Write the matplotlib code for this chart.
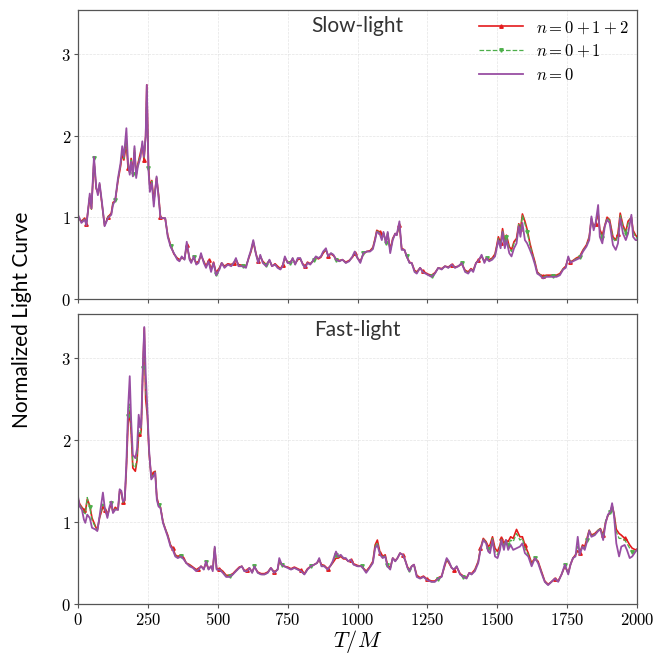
"""Slow-light vs fast-light normalized light curves for n = 0, 0+1, 0+1+2."""
import matplotlib
matplotlib.use("Agg")
import matplotlib.pyplot as plt
from matplotlib.ticker import FuncFormatter
import numpy as np

plt.rcParams["mathtext.fontset"] = "cm"

# ---- slow-light panel ----
t_slow = [
  0, 12, 24, 30, 42, 48, 57, 65, 71, 77,
  86, 95, 107, 119, 125, 133, 143, 152, 158, 164,
  173, 179, 185, 190, 196, 202, 208, 214, 224, 230,
  236, 242, 246, 252, 257, 264, 271, 281, 288, 295,
  312, 321, 331, 343, 355, 363, 371, 381, 389, 399,
  405, 414, 423, 431, 440, 450, 458, 467, 476, 485,
  494, 506, 514, 524, 536, 548, 557, 565, 574, 589,
  601, 610, 619, 627, 637, 645, 652, 661, 673, 685,
  694, 705, 714, 724, 732, 740, 750, 760, 768, 777,
  786, 795, 804, 813, 821, 831, 843, 851, 860, 869,
  877, 887, 895, 905, 914, 923, 935, 946, 958, 970,
  982, 990, 1000, 1010, 1021, 1033, 1045, 1055, 1063, 1069,
  1079, 1087, 1093, 1102, 1108, 1117, 1126, 1135, 1140, 1150,
  1158, 1168, 1176, 1186, 1194, 1204, 1212, 1224, 1233, 1243,
  1254, 1265, 1277, 1289, 1301, 1313, 1325, 1337, 1349, 1361,
  1373, 1385, 1396, 1406, 1414, 1424, 1432, 1444, 1454, 1462,
  1471, 1482, 1492, 1498, 1504, 1512, 1519, 1527, 1533, 1543,
  1551, 1560, 1569, 1577, 1583, 1590, 1599, 1607, 1617, 1626,
  1635, 1643, 1652, 1664, 1676, 1688, 1700, 1712, 1724, 1736,
  1745, 1754, 1762, 1771, 1783, 1795, 1807, 1819, 1829, 1837,
  1845, 1852, 1861, 1867, 1876, 1885, 1893, 1902, 1914, 1924,
  1932, 1940, 1950, 1960, 1968, 1980, 1986, 1995, 2000]

slow_n0 = [
  1.03, 0.93, 0.97, 0.90, 1.29, 1.11, 1.74, 1.37, 1.27, 1.42,
  1.17, 0.89, 0.99, 1.03, 1.15, 1.21, 1.48, 1.66, 1.87, 1.74,
  2.09, 1.66, 1.52, 1.68, 1.50, 1.87, 1.48, 1.62, 1.74, 1.93,
  1.74, 1.99, 2.62, 1.58, 1.31, 1.42, 1.13, 1.50, 1.25, 0.99,
  0.99, 0.76, 0.64, 0.56, 0.48, 0.46, 0.52, 0.48, 0.70, 0.48,
  0.44, 0.52, 0.42, 0.44, 0.56, 0.44, 0.38, 0.46, 0.33, 0.44,
  0.29, 0.36, 0.44, 0.38, 0.42, 0.40, 0.44, 0.50, 0.40, 0.40,
  0.38, 0.50, 0.60, 0.72, 0.54, 0.44, 0.54, 0.44, 0.40, 0.48,
  0.40, 0.42, 0.38, 0.36, 0.40, 0.52, 0.44, 0.44, 0.50, 0.42,
  0.50, 0.50, 0.42, 0.38, 0.44, 0.42, 0.48, 0.52, 0.50, 0.52,
  0.58, 0.62, 0.52, 0.56, 0.54, 0.48, 0.46, 0.48, 0.44, 0.46,
  0.52, 0.58, 0.50, 0.44, 0.56, 0.58, 0.58, 0.61, 0.72, 0.82,
  0.80, 0.72, 0.82, 0.68, 0.82, 0.56, 0.72, 0.80, 0.78, 0.95,
  0.60, 0.60, 0.52, 0.44, 0.44, 0.33, 0.31, 0.38, 0.33, 0.31,
  0.29, 0.27, 0.31, 0.38, 0.36, 0.40, 0.38, 0.42, 0.38, 0.40,
  0.44, 0.33, 0.31, 0.36, 0.33, 0.44, 0.46, 0.54, 0.44, 0.50,
  0.46, 0.48, 0.52, 0.62, 0.72, 0.62, 0.82, 0.62, 0.72, 0.56,
  0.52, 0.62, 0.68, 0.89, 0.76, 0.93, 0.72, 0.68, 0.60, 0.52,
  0.42, 0.31, 0.29, 0.25, 0.27, 0.27, 0.27, 0.27, 0.29, 0.36,
  0.38, 0.52, 0.44, 0.46, 0.48, 0.50, 0.58, 0.64, 0.72, 1.01,
  0.84, 0.93, 1.15, 0.76, 0.68, 0.89, 0.97, 0.93, 0.66, 0.60,
  0.68, 0.99, 0.80, 0.72, 0.80, 1.03, 0.76, 0.72, 0.72]

slow_n01 = [
  1.01, 0.94, 0.98, 0.91, 1.27, 1.10, 1.72, 1.36, 1.29, 1.41,
  1.16, 0.90, 1.00, 1.04, 1.17, 1.21, 1.46, 1.64, 1.82, 1.72,
  1.96, 1.62, 1.54, 1.70, 1.53, 1.85, 1.50, 1.64, 1.78, 1.90,
  1.72, 1.98, 2.55, 1.60, 1.35, 1.44, 1.17, 1.49, 1.27, 1.00,
  0.99, 0.77, 0.65, 0.56, 0.49, 0.47, 0.51, 0.48, 0.68, 0.49,
  0.45, 0.51, 0.43, 0.45, 0.54, 0.45, 0.39, 0.46, 0.35, 0.44,
  0.31, 0.37, 0.44, 0.39, 0.42, 0.41, 0.44, 0.49, 0.41, 0.40,
  0.39, 0.50, 0.59, 0.71, 0.54, 0.45, 0.53, 0.45, 0.41, 0.48,
  0.40, 0.42, 0.39, 0.36, 0.40, 0.51, 0.44, 0.44, 0.50, 0.42,
  0.49, 0.50, 0.42, 0.39, 0.44, 0.42, 0.48, 0.52, 0.50, 0.52,
  0.57, 0.61, 0.52, 0.56, 0.54, 0.48, 0.46, 0.48, 0.44, 0.46,
  0.52, 0.57, 0.50, 0.45, 0.56, 0.58, 0.58, 0.62, 0.73, 0.83,
  0.81, 0.74, 0.81, 0.69, 0.81, 0.58, 0.73, 0.80, 0.78, 0.92,
  0.61, 0.60, 0.52, 0.44, 0.44, 0.34, 0.32, 0.38, 0.33, 0.31,
  0.29, 0.28, 0.31, 0.38, 0.36, 0.40, 0.38, 0.42, 0.38, 0.40,
  0.44, 0.34, 0.32, 0.36, 0.34, 0.44, 0.46, 0.53, 0.45, 0.50,
  0.47, 0.49, 0.54, 0.64, 0.74, 0.66, 0.84, 0.68, 0.76, 0.62,
  0.58, 0.68, 0.72, 0.91, 0.83, 1.02, 0.92, 0.82, 0.66, 0.55,
  0.44, 0.32, 0.30, 0.27, 0.28, 0.28, 0.28, 0.28, 0.30, 0.37,
  0.39, 0.51, 0.45, 0.47, 0.49, 0.51, 0.59, 0.65, 0.75, 0.99,
  0.86, 0.92, 1.08, 0.82, 0.75, 0.90, 0.99, 0.96, 0.74, 0.70,
  0.78, 1.03, 0.88, 0.80, 0.92, 1.01, 0.82, 0.76, 0.74]

slow_n012 = [
  1.00, 0.95, 0.99, 0.92, 1.25, 1.10, 1.70, 1.35, 1.30, 1.40,
  1.15, 0.90, 1.00, 1.05, 1.18, 1.20, 1.45, 1.62, 1.78, 1.70,
  1.90, 1.60, 1.55, 1.72, 1.55, 1.82, 1.52, 1.65, 1.80, 1.88,
  1.70, 2.00, 2.62, 1.62, 1.38, 1.45, 1.20, 1.48, 1.28, 1.00,
  0.98, 0.78, 0.66, 0.55, 0.50, 0.48, 0.50, 0.49, 0.66, 0.50,
  0.46, 0.50, 0.44, 0.46, 0.53, 0.46, 0.40, 0.47, 0.36, 0.45,
  0.32, 0.38, 0.44, 0.40, 0.43, 0.42, 0.44, 0.48, 0.42, 0.41,
  0.40, 0.49, 0.58, 0.70, 0.55, 0.46, 0.52, 0.46, 0.42, 0.47,
  0.40, 0.43, 0.40, 0.37, 0.41, 0.50, 0.45, 0.45, 0.49, 0.43,
  0.48, 0.49, 0.43, 0.40, 0.45, 0.43, 0.47, 0.51, 0.49, 0.51,
  0.56, 0.60, 0.53, 0.55, 0.53, 0.49, 0.47, 0.48, 0.45, 0.47,
  0.51, 0.56, 0.50, 0.46, 0.55, 0.58, 0.59, 0.63, 0.74, 0.84,
  0.82, 0.75, 0.80, 0.70, 0.80, 0.60, 0.74, 0.80, 0.78, 0.90,
  0.62, 0.60, 0.52, 0.45, 0.44, 0.35, 0.33, 0.38, 0.34, 0.32,
  0.30, 0.29, 0.32, 0.38, 0.37, 0.40, 0.39, 0.42, 0.39, 0.40,
  0.43, 0.35, 0.33, 0.37, 0.35, 0.44, 0.47, 0.52, 0.46, 0.50,
  0.48, 0.50, 0.55, 0.65, 0.76, 0.68, 0.86, 0.70, 0.78, 0.64,
  0.60, 0.70, 0.74, 0.92, 0.85, 1.04, 0.95, 0.85, 0.68, 0.56,
  0.45, 0.33, 0.30, 0.28, 0.29, 0.29, 0.29, 0.29, 0.31, 0.37,
  0.40, 0.50, 0.45, 0.47, 0.50, 0.52, 0.60, 0.66, 0.76, 0.98,
  0.88, 0.92, 1.05, 0.85, 0.78, 0.90, 1.00, 0.97, 0.76, 0.72,
  0.80, 1.05, 0.90, 0.82, 0.95, 1.00, 0.84, 0.78, 0.76]

# ---- fast-light panel ----
t_fast = [
  0, 6, 14, 21, 26, 33, 42, 50, 62, 69,
  77, 89, 95, 105, 113, 119, 125, 133, 143, 149,
  155, 161, 167, 173, 179, 185, 190, 196, 205, 211,
  217, 223, 226, 232, 237, 242, 248, 254, 262, 270,
  276, 282, 288, 295, 304, 312, 321, 331, 339, 348,
  357, 369, 379, 387, 399, 411, 423, 431, 440, 450,
  458, 467, 476, 482, 489, 496, 506, 518, 530, 542,
  554, 565, 577, 586, 595, 605, 613, 623, 631, 643,
  655, 667, 679, 690, 702, 714, 720, 729, 738, 750,
  762, 774, 786, 798, 810, 821, 833, 845, 855, 863,
  871, 881, 893, 902, 911, 923, 931, 940, 950, 958,
  967, 976, 986, 1000, 1015, 1031, 1043, 1055, 1063, 1071,
  1081, 1090, 1099, 1107, 1117, 1126, 1135, 1143, 1152, 1162,
  1170, 1179, 1186, 1194, 1202, 1212, 1224, 1236, 1250, 1265,
  1277, 1289, 1301, 1310, 1319, 1327, 1337, 1345, 1355, 1367,
  1379, 1390, 1400, 1408, 1420, 1432, 1440, 1450, 1460, 1468,
  1474, 1483, 1492, 1501, 1510, 1515, 1524, 1531, 1539, 1548,
  1557, 1569, 1581, 1590, 1599, 1611, 1623, 1635, 1646, 1658,
  1670, 1682, 1694, 1706, 1718, 1730, 1742, 1754, 1762, 1771,
  1780, 1788, 1795, 1805, 1813, 1821, 1829, 1837, 1849, 1861,
  1869, 1879, 1888, 1896, 1905, 1911, 1918, 1926, 1936, 1944,
  1956, 1964, 1974, 1983, 1995, 2000]

fast_n0 = [
  1.31, 1.19, 1.15, 1.03, 0.99, 1.09, 1.05, 0.93, 0.91, 0.89,
  1.07, 1.36, 1.19, 1.05, 1.19, 1.25, 1.11, 1.15, 1.15, 1.40,
  1.38, 1.25, 1.27, 1.72, 2.38, 2.78, 2.25, 1.82, 1.78, 1.89,
  2.31, 2.15, 2.19, 2.91, 3.38, 2.82, 2.38, 1.89, 1.52, 1.56,
  1.60, 1.27, 1.19, 1.17, 0.99, 0.91, 0.82, 0.70, 0.66, 0.58,
  0.56, 0.58, 0.54, 0.50, 0.46, 0.44, 0.40, 0.42, 0.46, 0.42,
  0.52, 0.42, 0.46, 0.40, 0.70, 0.42, 0.42, 0.38, 0.33, 0.33,
  0.36, 0.40, 0.44, 0.46, 0.40, 0.40, 0.44, 0.38, 0.46, 0.38,
  0.36, 0.36, 0.38, 0.44, 0.38, 0.42, 0.56, 0.48, 0.46, 0.44,
  0.42, 0.44, 0.42, 0.40, 0.36, 0.42, 0.46, 0.48, 0.50, 0.56,
  0.46, 0.46, 0.42, 0.46, 0.52, 0.64, 0.58, 0.60, 0.56, 0.56,
  0.52, 0.54, 0.48, 0.46, 0.46, 0.38, 0.44, 0.50, 0.68, 0.72,
  0.60, 0.56, 0.58, 0.46, 0.42, 0.56, 0.52, 0.56, 0.62, 0.60,
  0.54, 0.44, 0.40, 0.46, 0.48, 0.33, 0.31, 0.33, 0.29, 0.27,
  0.27, 0.31, 0.33, 0.46, 0.56, 0.52, 0.44, 0.42, 0.46, 0.36,
  0.33, 0.31, 0.38, 0.36, 0.40, 0.50, 0.66, 0.78, 0.74, 0.64,
  0.62, 0.78, 0.58, 0.56, 0.66, 0.78, 0.66, 0.78, 0.66, 0.72,
  0.66, 0.68, 0.70, 0.74, 0.62, 0.58, 0.46, 0.56, 0.50, 0.38,
  0.27, 0.23, 0.27, 0.31, 0.27, 0.36, 0.48, 0.36, 0.48, 0.56,
  0.58, 0.82, 0.60, 0.70, 0.66, 0.76, 0.89, 0.82, 0.84, 0.89,
  0.91, 0.78, 0.99, 1.09, 1.13, 1.23, 1.07, 0.74, 0.58, 0.70,
  0.72, 0.66, 0.56, 0.58, 0.64, 0.66]

fast_n01 = [
  1.29, 1.21, 1.17, 1.12, 1.10, 1.30, 1.18, 1.02, 0.94, 0.90,
  1.06, 1.22, 1.16, 1.07, 1.18, 1.23, 1.11, 1.17, 1.15, 1.39,
  1.37, 1.24, 1.27, 1.68, 2.30, 2.44, 2.15, 1.70, 1.66, 1.78,
  2.12, 2.08, 2.14, 2.88, 3.30, 2.62, 2.33, 1.86, 1.54, 1.58,
  1.61, 1.28, 1.21, 1.18, 1.00, 0.92, 0.83, 0.71, 0.67, 0.59,
  0.57, 0.59, 0.55, 0.50, 0.47, 0.44, 0.41, 0.42, 0.46, 0.42,
  0.51, 0.42, 0.46, 0.41, 0.69, 0.42, 0.42, 0.39, 0.34, 0.34,
  0.36, 0.40, 0.44, 0.46, 0.40, 0.40, 0.44, 0.38, 0.46, 0.38,
  0.36, 0.36, 0.38, 0.44, 0.38, 0.42, 0.54, 0.48, 0.46, 0.44,
  0.42, 0.44, 0.42, 0.40, 0.36, 0.42, 0.46, 0.48, 0.50, 0.55,
  0.47, 0.46, 0.42, 0.46, 0.51, 0.60, 0.57, 0.59, 0.56, 0.56,
  0.52, 0.54, 0.48, 0.46, 0.46, 0.39, 0.44, 0.51, 0.70, 0.75,
  0.61, 0.57, 0.59, 0.47, 0.43, 0.56, 0.52, 0.56, 0.62, 0.60,
  0.54, 0.44, 0.41, 0.46, 0.48, 0.34, 0.31, 0.33, 0.29, 0.27,
  0.27, 0.31, 0.33, 0.45, 0.55, 0.51, 0.44, 0.42, 0.46, 0.36,
  0.33, 0.31, 0.38, 0.36, 0.41, 0.51, 0.67, 0.79, 0.75, 0.67,
  0.68, 0.80, 0.64, 0.60, 0.70, 0.79, 0.70, 0.78, 0.72, 0.78,
  0.76, 0.86, 0.78, 0.80, 0.68, 0.60, 0.48, 0.56, 0.51, 0.39,
  0.27, 0.23, 0.27, 0.31, 0.27, 0.36, 0.47, 0.37, 0.48, 0.56,
  0.59, 0.70, 0.61, 0.71, 0.68, 0.78, 0.90, 0.83, 0.85, 0.90,
  0.92, 0.82, 1.02, 1.08, 1.12, 1.21, 1.09, 0.88, 0.80, 0.80,
  0.78, 0.74, 0.68, 0.64, 0.65, 0.66]

fast_n012 = [
  1.28, 1.22, 1.18, 1.15, 1.12, 1.28, 1.20, 1.05, 0.95, 0.90,
  1.05, 1.19, 1.15, 1.08, 1.17, 1.22, 1.12, 1.18, 1.15, 1.38,
  1.36, 1.24, 1.26, 1.65, 2.20, 2.35, 2.10, 1.66, 1.62, 1.75,
  2.08, 2.05, 2.12, 2.85, 3.37, 2.50, 2.30, 1.85, 1.55, 1.60,
  1.62, 1.30, 1.22, 1.18, 1.00, 0.92, 0.84, 0.72, 0.68, 0.60,
  0.58, 0.60, 0.56, 0.50, 0.48, 0.45, 0.42, 0.43, 0.46, 0.43,
  0.50, 0.43, 0.46, 0.42, 0.68, 0.43, 0.43, 0.40, 0.35, 0.35,
  0.37, 0.41, 0.45, 0.46, 0.41, 0.41, 0.44, 0.39, 0.45, 0.39,
  0.37, 0.37, 0.39, 0.44, 0.39, 0.42, 0.52, 0.48, 0.46, 0.45,
  0.43, 0.45, 0.43, 0.41, 0.37, 0.43, 0.46, 0.48, 0.50, 0.54,
  0.48, 0.47, 0.43, 0.46, 0.50, 0.56, 0.56, 0.58, 0.55, 0.55,
  0.52, 0.54, 0.49, 0.47, 0.46, 0.40, 0.45, 0.52, 0.72, 0.78,
  0.62, 0.58, 0.60, 0.48, 0.44, 0.56, 0.53, 0.56, 0.62, 0.60,
  0.54, 0.45, 0.42, 0.46, 0.48, 0.35, 0.32, 0.34, 0.30, 0.28,
  0.28, 0.32, 0.34, 0.44, 0.54, 0.50, 0.44, 0.42, 0.45, 0.37,
  0.34, 0.32, 0.38, 0.37, 0.42, 0.52, 0.68, 0.80, 0.76, 0.70,
  0.72, 0.82, 0.68, 0.64, 0.72, 0.80, 0.74, 0.78, 0.76, 0.82,
  0.80, 0.91, 0.82, 0.82, 0.72, 0.62, 0.50, 0.56, 0.52, 0.40,
  0.28, 0.24, 0.27, 0.31, 0.28, 0.36, 0.46, 0.38, 0.48, 0.56,
  0.60, 0.65, 0.62, 0.72, 0.70, 0.80, 0.90, 0.84, 0.86, 0.90,
  0.92, 0.84, 1.00, 1.08, 1.12, 1.20, 1.10, 0.91, 0.86, 0.84,
  0.80, 0.78, 0.72, 0.68, 0.66, 0.67]

RED, GREEN, PURPLE = "#e41a1c", "#4daf4a", "#984ea3"
LABELS = [r"$n=0+1+2$", r"$n=0+1$", r"$n=0$"]
PANELS = [("Slow-light", t_slow, slow_n012, slow_n01, slow_n0),
          ("Fast-light", t_fast, fast_n012, fast_n01, fast_n0)]

fig = plt.figure(figsize=(6.67, 6.54), dpi=100)
ax_top = fig.add_axes([0.117, 0.543, 0.838, 0.442])
ax_bot = fig.add_axes([0.117, 0.0765, 0.838, 0.4435], sharex=ax_top, sharey=ax_top)

tick_fmt = FuncFormatter(lambda v, _: f"${v:g}$")

for ax, (title, t, r, g, p) in zip([ax_top, ax_bot], PANELS):
  ax.plot(t, r, color=RED, lw=1.2, marker="^", ms=2.5, markevery=(3, 9), label=LABELS[0])
  ax.plot(t, g, color=GREEN, lw=0.9, ls="--", marker="v", ms=2.5, markevery=(6, 9), label=LABELS[1])
  ax.plot(t, p, color=PURPLE, lw=1.3, label=LABELS[2])
  ax.text(0.5, 0.945, title, transform=ax.transAxes, ha="center", va="center",
          fontsize=15, family="Lato", color="#333333")
  ax.grid(True, ls="--", lw=0.5, color="#dddddd", alpha=0.8)
  ax.set_axisbelow(True)
  for s in ax.spines.values():
    s.set_color("#555555")
    s.set_linewidth(0.9)
  ax.tick_params(direction="out", length=3, width=0.8, color="#555555",
                 labelsize=12, pad=2)
  ax.xaxis.set_major_formatter(tick_fmt)
  ax.yaxis.set_major_formatter(tick_fmt)

ax_top.set_xlim(0, 2000)
ax_top.set_ylim(0, 3.54)
ax_top.set_xticks(np.arange(0, 2001, 250))
ax_top.set_yticks([0, 1, 2, 3])
ax_top.tick_params(labelbottom=False)

ax_top.legend(loc="upper right", frameon=False, fontsize=12, handlelength=2.6,
              borderaxespad=0.1, labelspacing=0.35)

# x label placed by hand so it fits between the tick labels and the bottom edge
fig.text(0.536, 0.011, r"$T/M$", ha="center", va="baseline", fontsize=16)
fig.text(0.033, 0.511, "Normalized Light Curve", rotation=90, ha="center",
         va="center", fontsize=15, family="Lato")

fig.savefig("out.png", dpi=100)
